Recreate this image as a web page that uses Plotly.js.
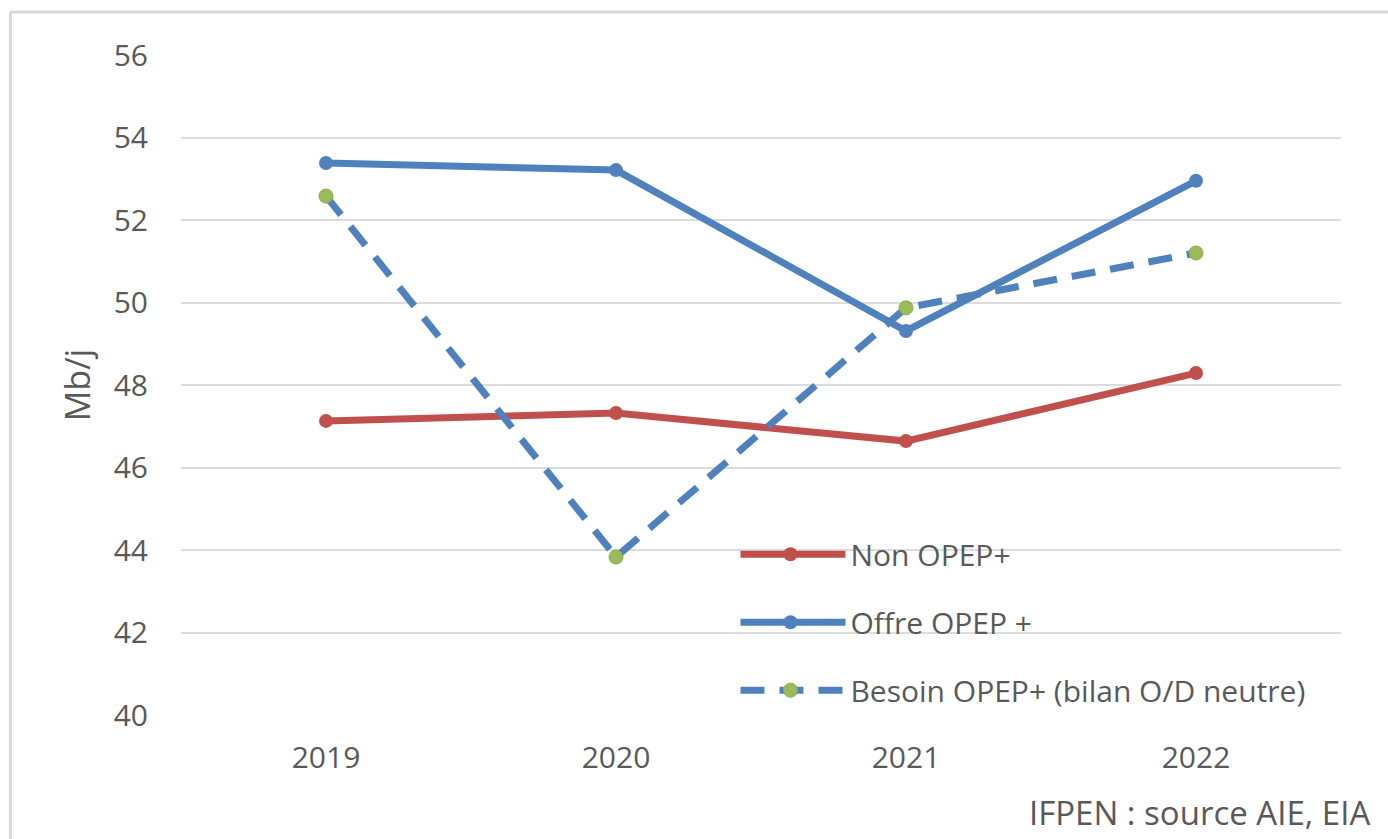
<!DOCTYPE html>
<html>
<head>
<meta charset="utf-8">
<script src="https://cdn.plot.ly/plotly-3.0.1.min.js"></script>
<style>
html,body{margin:0;padding:0;background:#fff;}
#chart{width:1388px;height:839px;}
</style>
</head>
<body>
<div id="chart"></div>
<script>
const years = ['2019', '2020', '2021', '2022'];
const nonOpep = [47.13, 47.32, 46.64, 48.29];
const offreOpep = [53.38, 53.21, 49.31, 52.95];
const besoinOpep = [52.58, 43.83, 49.87, 51.20];
const seriesNames = ['Non OPEP+', 'Offre OPEP +', 'Besoin OPEP+ (bilan O/D neutre)'];
const yTicks = [40, 42, 44, 46, 48, 50, 52, 54, 56];

const FONT = '"Open Sans", "Noto Sans", sans-serif';
const GREY = '#595959';

const traces = [
  {x: years, y: nonOpep, name: seriesNames[0], type: 'scatter', mode: 'lines+markers', legendgroup: 'a',
   line: {color: '#C0504D', width: 7}, marker: {color: '#C0504D', size: 14}},
  {x: years, y: offreOpep, name: seriesNames[1], type: 'scatter', mode: 'lines+markers', legendgroup: 'b',
   line: {color: '#4F81BD', width: 7}, marker: {color: '#4F81BD', size: 14}},
  {x: years, y: besoinOpep, name: seriesNames[2], type: 'scatter', mode: 'lines+markers', legendgroup: 'c',
   line: {color: '#4F81BD', width: 7, dash: '24px,15px'}, marker: {color: '#9BBB59', size: 14, line: {color: '#8aa84e', width: 1}}}
];

const layout = {
  width: 1388, height: 839,
  margin: {l: 181, r: 47, t: 55, b: 124},
  paper_bgcolor: '#ffffff', plot_bgcolor: '#ffffff',
  font: {family: FONT, size: 30, color: GREY},
  showlegend: true,
  legend: {x: 0.478, y: 0.283, xanchor: 'left', yanchor: 'top', bgcolor: 'rgba(0,0,0,0)',
           font: {family: FONT, size: 30, color: GREY}, tracegroupgap: 26, itemwidth: 105, traceorder: 'grouped'},
  xaxis: {type: 'category', range: [-0.5, 3.5], showgrid: false, zeroline: false, showline: false,
          ticks: 'outside', ticklen: 16, tickcolor: 'rgba(0,0,0,0)', tickfont: {family: FONT, size: 30, color: GREY}, fixedrange: true},
  yaxis: {range: [40, 56], tickvals: yTicks, showgrid: true, gridcolor: '#dcdcdc', gridwidth: 2, zeroline: false, showline: false,
          ticks: 'outside', ticklen: 26, tickcolor: 'rgba(0,0,0,0)', tickfont: {family: FONT, size: 30, color: GREY},
          title: {text: 'Mb/j', font: {family: FONT, size: 34, color: GREY}, standoff: 12}, fixedrange: true},
  shapes: [
    {type: 'line', xref: 'paper', yref: 'paper', x0: -0.147, x1: 1.05, y0: 1.065, y1: 1.065, line: {color: '#d9d9d9', width: 3}},
    {type: 'line', xref: 'paper', yref: 'paper', x0: -0.147, x1: -0.147, y0: 1.065, y1: -0.2, line: {color: '#d9d9d9', width: 3}}
  ],
  annotations: [
    {text: 'IFPEN : source AIE, EIA', xref: 'paper', yref: 'paper', x: 1.027, y: -0.147, xanchor: 'right', yanchor: 'middle',
     showarrow: false, font: {family: FONT, size: 33, color: GREY}}
  ]
};

Plotly.newPlot('chart', traces, layout, {displayModeBar: false, staticPlot: true}).then(function(gd){
  // lengthen legend line symbols to match the original Excel-style legend
  const items = gd.querySelectorAll('.legend .traces');
  items.forEach(function(it){
    it.querySelectorAll('.legendlines path').forEach(function(p){ p.setAttribute('d', 'M5,0h105'); });
    it.querySelectorAll('.legendpoints path').forEach(function(p){
      p.setAttribute('transform', 'translate(55,0)');
    });
  });
});
</script>
</body>
</html>
